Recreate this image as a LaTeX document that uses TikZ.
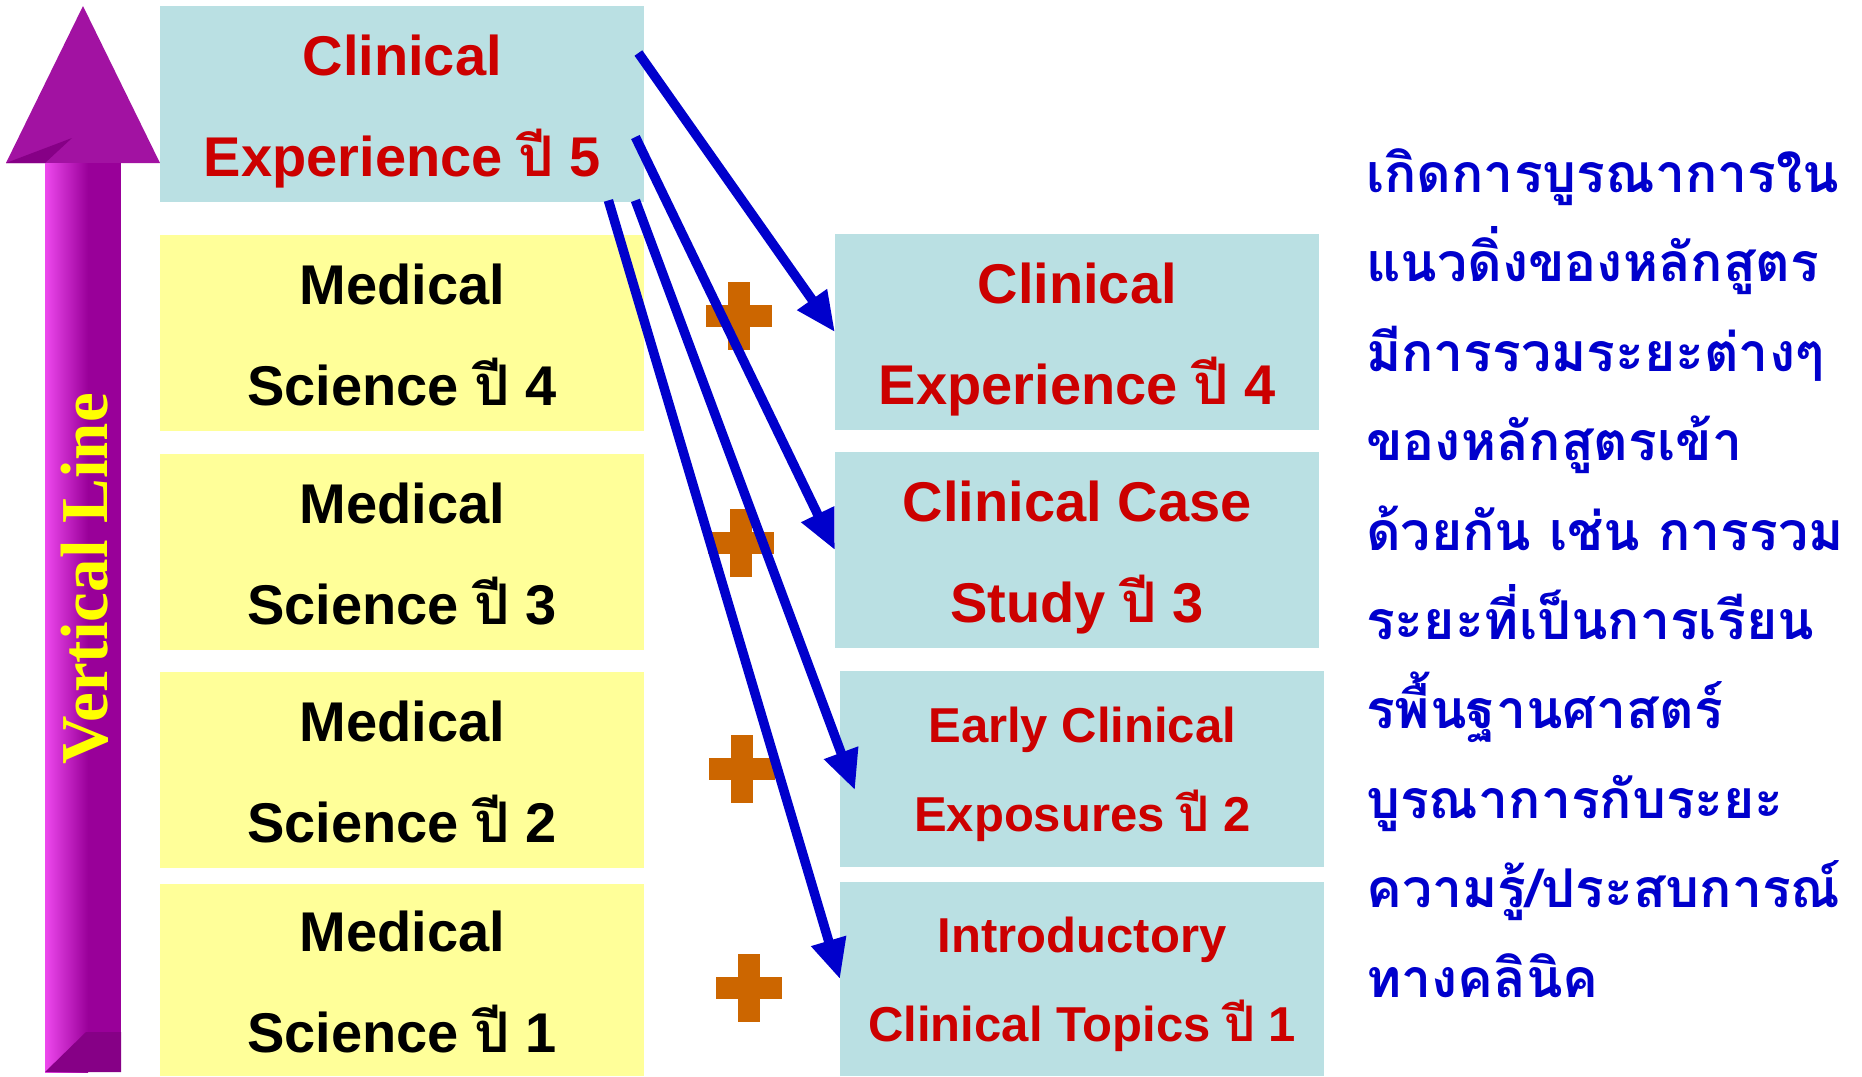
\documentclass[tikz,border=0pt]{standalone}
\usepackage{fontspec}
\setmainfont{Liberation Sans}
\newfontfamily\thai[Script=Thai]{Loma}
\newfontfamily\vfont{Liberation Serif}
\usetikzlibrary{arrows.meta,calc}
\definecolor{cyanbox}{HTML}{BAE0E3}
\definecolor{yellowbox}{HTML}{FFFF99}
\definecolor{redtxt}{HTML}{CC0000}
\definecolor{bluearr}{HTML}{0000CC}
\definecolor{plusor}{HTML}{CC6600}
\definecolor{purp}{HTML}{990099}
\definecolor{purphead}{HTML}{A212A2}
\definecolor{purpdark}{HTML}{860086}
\definecolor{purplight}{HTML}{EE48EE}
\definecolor{vyellow}{HTML}{FFFF00}
\begin{document}
\begin{tikzpicture}[x=1pt,y=-1pt,
  box/.style={minimum width=484pt, minimum height=196pt, inner sep=0pt, anchor=north west,
    align=center, font=\bfseries\fontsize{56}{101}\selectfont,
    text height=156pt, text depth=12pt},
  clin/.style={box, fill=cyanbox, text=redtxt},
  med/.style={box, fill=yellowbox, text=black},
  small/.style={font=\bfseries\fontsize{49}{89}\selectfont,
    text height=136pt, text depth=11pt},
  link/.style={draw=bluearr, line width=9.5pt, -{Triangle[length=40pt,width=34pt]}},
  plusbar/.style={fill=plusor}
]
\useasboundingbox (0,0) rectangle (1862,1076);

% vertical purple arrow
\fill[purphead] (83,6) -- (160,163) -- (6,163) -- cycle;
\fill[purpdark] (6,163) -- (45,163) -- (72,138) -- cycle;
\fill[purp] (45,163) rectangle (121,1072);
\shade[left color=purplight, right color=purp] (45,163) rectangle (88,1072);
\fill[purpdark] (45,1072) -- (121,1072) -- (121,1032) -- (86,1032) -- cycle;
\node[rotate=90, text=vyellow, font=\vfont\bfseries\fontsize{67}{67}\selectfont] (vl) at (85,579) {Vertical Line};

% left column
\node[clin] (c5) at (160,6) {Clinical\\Experience {\thai ปี} 5};
\node[med] (m4) at (160,235) {Medical\\Science {\thai ปี} 4};
\node[med] (m3) at (160,454) {Medical\\Science {\thai ปี} 3};
\node[med] (m2) at (160,672) {Medical\\Science {\thai ปี} 2};
\node[med, minimum height=192pt] (m1) at (160,884) {Medical\\Science {\thai ปี} 1};

% right column
\node[clin] (c4) at (835,234) {Clinical\\Experience {\thai ปี} 4};
\node[clin] (c3) at (835,452) {Clinical Case\\Study {\thai ปี} 3};
\node[clin, small] (c2) at (840,671) {Early Clinical\\Exposures {\thai ปี} 2};
\node[clin, small, minimum height=194pt] (c1) at (840,882) {Introductory\\Clinical Topics {\thai ปี} 1};

% plus signs
\foreach \x/\y in {739/316, 741/543, 742/769, 749/988}{
  \fill[plusbar] ({\x-33},{\y-11}) rectangle ({\x+33},{\y+11});
  \fill[plusbar] ({\x-11},{\y-34}) rectangle ({\x+11},{\y+34});
}

% arrows
\coordinate (s1) at ($(c5.north east)+(-6,47)$);
\coordinate (s2) at ($(c5.north east)+(-9,131)$);
\coordinate (s3) at ($(c5.south east)+(-9,-2)$);
\coordinate (s4) at ($(c5.south east)+(-36,-2)$);
\coordinate (e3) at ($(c2.west)+(15,21)$);
\draw[link] (s1) -- (c4.west);
\draw[link] (s2) -- (c3.west);
\draw[link] (s3) -- (e3);
\draw[link] (s4) -- (c1.west);

% description
\node[anchor=base west, align=left, inner sep=0pt, text=bluearr,
  font=\thai\bfseries\fontsize{53.5}{89.4}\selectfont] (desc) at (1366,997)
  {เกิดการบูรณาการใน\\แนวดิ่งของหลักสูตร\\มีการรวมระยะต่างๆ\\ของหลักสูตรเข้า\\ด้วยกัน เช่น การรวม\\ระยะที่เป็นการเรียน\\รพื้นฐานศาสตร์\\บูรณาการกับระยะ\\ความรู้/ประสบการณ์\\ทางคลินิค};
\end{tikzpicture}
\end{document}
